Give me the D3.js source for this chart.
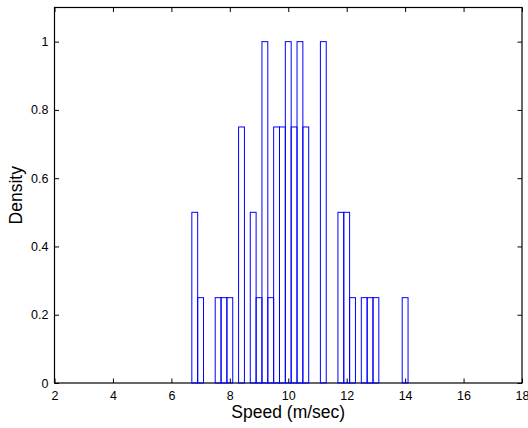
<!DOCTYPE html>
<html>
<head>
<meta charset="utf-8">
<script src="https://cdn.jsdelivr.net/npm/d3@7"></script>
<style>
  body { margin: 0; background: #fff; }
  svg { display: block; font-family: "Liberation Sans", Arial, Helvetica, sans-serif; }
</style>
</head>
<body>
<svg id="chart" width="528" height="428"></svg>
<script>
// histogram bins (left edges, m/sec) and their density heights
const binLeft = [6.3, 6.5, 6.7, 6.9, 7.1, 7.3, 7.5, 7.7, 7.9, 8.1,
  8.3, 8.5, 8.7, 8.9, 9.1, 9.3, 9.5, 9.7, 9.9, 10.1,
  10.3, 10.5, 10.7, 10.9, 11.1, 11.3, 11.5, 11.7, 11.9, 12.1,
  12.3, 12.5, 12.7, 12.9, 13.1, 13.3, 13.5, 13.7, 13.9, 14.1, 14.3]
const density = [0, 0, 0.5, 0.25, 0, 0, 0.25, 0.25, 0.25, 0,
  0.75, 0, 0.5, 0.25, 1, 0.25, 0.75, 0.75, 1, 0.75,
  1, 0.75, 0, 0, 1, 0, 0, 0.5, 0.5, 0.25,
  0, 0.25, 0.25, 0.25, 0, 0, 0, 0, 0.25, 0, 0]
const binWidth = 0.2
const xTicks = [2, 4, 6, 8, 10, 12, 14, 16, 18]
const yTicks = [0, 0.2, 0.4, 0.6, 0.8, 1]

const plotLeft = 54.5, plotRight = 522, plotTop = 7.5, plotBottom = 383
const svg = d3.select('#chart')

let xScale = d3.scaleLinear().domain([2, 18]).range([plotLeft, plotRight])
let yScale = d3.scaleLinear().domain([0, 1.1]).range([plotBottom, plotTop])

const tickLen = 4.5

function styleAxis (g) {
  g.select('.domain').remove()
  g.selectAll('.tick line').attr('stroke', '#000')
  g.selectAll('.tick text').attr('fill', '#000').style('font-size', '12.5px')
}

// bottom axis with labels, ticks pointing inward
svg.append('g')
  .attr('transform', `translate(0, ${plotBottom})`)
  .call(d3.axisBottom(xScale).tickValues(xTicks).tickFormat(d3.format('d'))
    .tickSizeInner(-tickLen).tickSizeOuter(0).tickPadding(8))
  .call(styleAxis)

// top axis, ticks only
svg.append('g')
  .attr('transform', `translate(0, ${plotTop})`)
  .call(d3.axisTop(xScale).tickValues(xTicks).tickFormat('')
    .tickSizeInner(-tickLen).tickSizeOuter(0))
  .call(styleAxis)

// left axis with labels
svg.append('g')
  .attr('transform', `translate(${plotLeft}, 0)`)
  .call(d3.axisLeft(yScale).tickValues(yTicks).tickFormat(d => String(+d.toFixed(1)))
    .tickSizeInner(-tickLen).tickSizeOuter(0).tickPadding(6))
  .call(styleAxis)

// right axis, ticks only
svg.append('g')
  .attr('transform', `translate(${plotRight}, 0)`)
  .call(d3.axisRight(yScale).tickValues(yTicks).tickFormat('')
    .tickSizeInner(-tickLen).tickSizeOuter(0))
  .call(styleAxis)

// axes box
svg.append('rect')
  .attr('x', plotLeft).attr('y', plotTop)
  .attr('width', plotRight - plotLeft).attr('height', plotBottom - plotTop)
  .attr('fill', 'none').attr('stroke', '#000').attr('stroke-width', 1.2)

// histogram outlines
svg.append('g').selectAll('rect')
  .data(binLeft.map((b, i) => ({ x0: b, x1: b + binWidth, y: density[i] })))
  .enter()
  .append('rect')
  .attr('x', d => xScale(d.x0))
  .attr('y', d => yScale(d.y))
  .attr('width', d => xScale(d.x1) - xScale(d.x0))
  .attr('height', d => yScale(0) - yScale(d.y))
  .attr('fill', 'none')
  .attr('stroke', '#0000ff')
  .attr('stroke-width', 1)

// axis labels
svg.append('text')
  .attr('x', (plotLeft + plotRight) / 2).attr('y', 418)
  .attr('text-anchor', 'middle')
  .style('font-size', '17.5px')
  .text('Speed (m/sec)')

svg.append('text')
  .attr('transform', `translate(22, ${(plotTop + plotBottom) / 2}) rotate(-90)`)
  .attr('text-anchor', 'middle')
  .style('font-size', '17.5px')
  .text('Density')
</script>
</body>
</html>
